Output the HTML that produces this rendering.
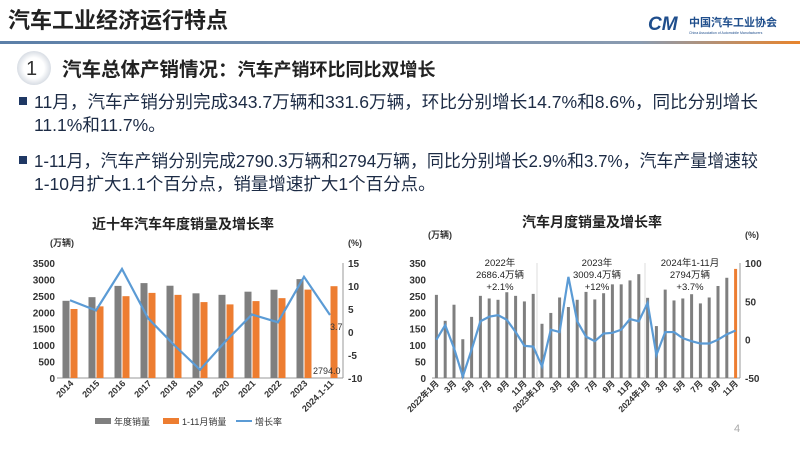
<!DOCTYPE html>
<html><head><meta charset="utf-8"><style>
body{margin:0;width:800px;height:449px;background:#fff;overflow:hidden;font-family:"Liberation Sans","Noto Sans CJK SC",sans-serif;}
svg{position:absolute;left:0;top:0}
</style></head><body>
<svg id="s" width="800" height="449" viewBox="0 0 800 449" font-family="Liberation Sans, Noto Sans CJK SC, sans-serif">
<defs><linearGradient id="g" x1="0" x2="1"><stop offset="0" stop-color="#5b7fa8"/><stop offset="0.8" stop-color="#8a9bb0"/><stop offset="1" stop-color="#e8842c"/></linearGradient>
<radialGradient id="c"><stop offset="0.6" stop-color="#fff"/><stop offset="1" stop-color="#d8dde4"/></radialGradient></defs>
<text x="8" y="28" font-size="22" font-weight="bold" fill="#222">汽车工业经济运行特点</text>
<text x="648" y="30" font-size="19" font-weight="bold" font-style="italic" fill="#1f4e8c">CM</text>
<text x="689" y="26" font-size="11" font-weight="bold" fill="#1f4e8c">中国汽车工业协会</text>
<text x="689" y="34" font-size="3.5" fill="#1f4e8c">China Association of Automobile Manufacturers</text>
<rect x="0" y="41" width="800" height="3" fill="url(#g)"/>
<circle cx="34" cy="68" r="17" fill="url(#c)"/>
<text x="26" y="75" font-size="20" fill="#333">1</text>
<text x="62" y="76" font-size="19.5" font-weight="bold" fill="#222">汽车总体产销情况：<tspan font-size="18">汽车产销环比同比双增长</tspan></text>
<g font-size="17.5" fill="#1c2b45">
<rect x="19" y="97" width="8" height="8" fill="#1f3864"/>
<text x="34" y="108" textLength="724" lengthAdjust="spacingAndGlyphs">11月，汽车产销分别完成343.7万辆和331.6万辆，环比分别增长14.7%和8.6%，同比分别增长</text>
<text x="34" y="131">11.1%和11.7%。</text>
<rect x="19" y="156" width="8" height="8" fill="#1f3864"/>
<text x="34" y="167" textLength="724" lengthAdjust="spacingAndGlyphs">1-11月，汽车产销分别完成2790.3万辆和2794万辆，同比分别增长2.9%和3.7%，汽车产量增速较</text>
<text x="34" y="190">1-10月扩大1.1个百分点，销量增速扩大1个百分点。</text>
</g>
<g id="L"></g><g id="R"></g>
<text x="734" y="432" font-size="11" fill="#aaa">4</text>
</svg>
<script>
const NS="http://www.w3.org/2000/svg";
function el(p,t,a,txt){const e=document.createElementNS(NS,t);for(const k in a)e.setAttribute(k,a[k]);if(txt!=null)e.textContent=txt;p.appendChild(e);return e;}
let L=document.getElementById('L');
el(L,'text',{x:183,y:229,'font-size':14,'font-weight':'bold','text-anchor':'middle',fill:'#222'},'近十年汽车年度销量及增长率');
el(L,'text',{x:50,y:246,'font-size':9,'font-weight':'bold',fill:'#333'},'(万辆)');
el(L,'text',{x:348,y:246,'font-size':9,'font-weight':'bold',fill:'#333'},'(%)');
const ly=v=>378-v/500*16.43, lr=v=>378-(v+10)/5*23;
for(let v=0;v<=3500;v+=500)el(L,'text',{x:55,y:ly(v)+4,'font-size':10,'font-weight':'bold','text-anchor':'end',fill:'#333'},v);
for(let v=-10;v<=15;v+=5)el(L,'text',{x:348,y:lr(v)+4,'font-size':10,'font-weight':'bold',fill:'#333'},v);
el(L,'line',{x1:57,y1:378,x2:343,y2:378,stroke:'#999'});
el(L,'line',{x1:343,y1:263,x2:343,y2:378,stroke:'#999'});
const ann=[2349,2460,2803,2888,2808,2577,2531,2627,2686,3009,null];
const p11=[2100,2180,2490,2590,2530,2310,2240,2340,2430,2690,2794];
const gr=[6.9,4.7,13.7,3.0,-2.8,-8.2,-1.9,3.8,2.1,12,3.7];
const cats=['2014','2015','2016','2017','2018','2019','2020','2021','2022','2023','2024.1-11'];
let pts=[];
for(let i=0;i<11;i++){const c=57+26*(i+0.5);
 if(ann[i])el(L,'rect',{x:c-7.5,y:ly(ann[i]),width:7,height:378-ly(ann[i]),fill:'#7f7f7f'});
 el(L,'rect',{x:c+0.5,y:ly(p11[i]),width:7,height:378-ly(p11[i]),fill:'#ed7d31'});
 pts.push(c+','+lr(gr[i]));
 el(L,'text',{x:c+4,y:384,'font-size':9,'font-weight':'bold','text-anchor':'end',fill:'#333',transform:`rotate(-45 ${c+4} 384)`},cats[i]);}
el(L,'polyline',{points:pts.join(' '),fill:'none',stroke:'#5b9bd5','stroke-width':2.2});
el(L,'text',{x:330,y:330,'font-size':9,fill:'#333'},'3.7');
el(L,'text',{x:313,y:374,'font-size':9,fill:'#333'},'2794.0');
el(L,'rect',{x:95,y:418,width:16,height:6,fill:'#7f7f7f'});
el(L,'text',{x:114,y:425,'font-size':9,fill:'#333'},'年度销量');
el(L,'rect',{x:163,y:418,width:16,height:6,fill:'#ed7d31'});
el(L,'text',{x:182,y:425,'font-size':9,fill:'#333'},'1-11月销量');
el(L,'line',{x1:236,y1:421,x2:252,y2:421,stroke:'#5b9bd5','stroke-width':2});
el(L,'text',{x:255,y:425,'font-size':9,fill:'#333'},'增长率');
let R=document.getElementById('R');
el(R,'text',{x:592,y:227,'font-size':14,'font-weight':'bold','text-anchor':'middle',fill:'#222'},'汽车月度销量及增长率');
el(R,'text',{x:428,y:238,'font-size':9,'font-weight':'bold',fill:'#333'},'(万辆)');
el(R,'text',{x:745,y:238,'font-size':9,'font-weight':'bold',fill:'#333'},'(%)');
const ry=v=>378-v/50*16.43, rr=v=>378-(v+50)/50*38.3;
for(let v=0;v<=350;v+=50)el(R,'text',{x:426,y:ry(v)+4,'font-size':10,'font-weight':'bold','text-anchor':'end',fill:'#333'},v);
for(let v=-50;v<=100;v+=50)el(R,'text',{x:745,y:rr(v)+4,'font-size':10,'font-weight':'bold',fill:'#333'},v);
el(R,'line',{x1:432,y1:378,x2:740,y2:378,stroke:'#999'});
el(R,'line',{x1:740,y1:263,x2:740,y2:378,stroke:'#999'});
el(R,'line',{x1:537,y1:263,x2:537,y2:378,stroke:'#ddd'});
el(R,'line',{x1:645,y1:263,x2:645,y2:378,stroke:'#ddd'});
const ms=[253,174,223,118,186,250,242,238,261,250,233,256,165,198,245,216,238,262,239,258,285,285,297,316,244,158,269,236,242,255,227,245,280,305,332];
const mg=[0,19,-11,-48,-13,24,30,32,26,10,-8,-9,-35,13,10,82,24,4,-2,8,9,13,27,24,48,-20,10,10,2,-2,-5,-5,0,7,12];
let p2=[];
for(let i=0;i<35;i++){const c=432+8.8*(i+0.5);
 el(R,'rect',{x:c-1.5,y:ry(ms[i]),width:3,height:378-ry(ms[i]),fill:i==34?'#ed7d31':'#7f7f7f'});
 p2.push(c+','+rr(mg[i]));
 if(i%2==0){const m=i%12+1;let lab=(m==1?(2022+i/12|0)+'年':'')+m+'月';
  el(R,'text',{x:c+3,y:384,'font-size':8.5,'font-weight':'bold','text-anchor':'end',fill:'#333',transform:`rotate(-45 ${c+3} 384)`},lab);}}
el(R,'polyline',{points:p2.join(' '),fill:'none',stroke:'#5b9bd5','stroke-width':2.2});
[[500,['2022年','2686.4万辆','+2.1%']],[597,['2023年','3009.4万辆','+12%']],[690,['2024年1-11月','2794万辆','+3.7%']]].forEach(([x,a])=>a.forEach((t,j)=>el(R,'text',{x:x,y:266+j*12,'font-size':9.5,'text-anchor':'middle',fill:'#222'},t)));
</script>
</body></html>
